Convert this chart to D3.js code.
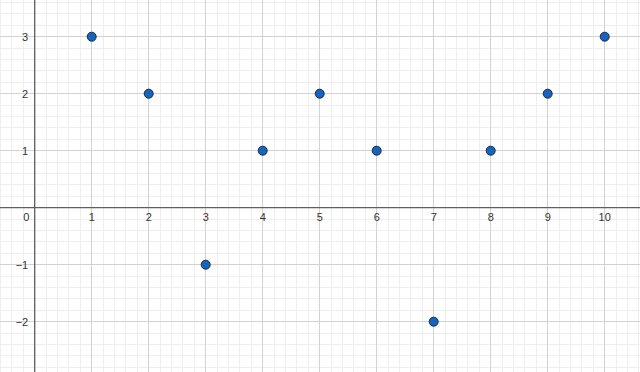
<!DOCTYPE html>
<html><head><meta charset="utf-8">
<script src="https://cdn.jsdelivr.net/npm/d3@7"></script>
<style>html,body{margin:0;padding:0;background:#fff;}svg{display:block;}</style>
</head><body>
<svg id="c" width="640" height="372"></svg>
<script>
const xValues = [1, 2, 3, 4, 5, 6, 7, 8, 9, 10];
const yValues = [3, 2, -1, 1, 2, 1, -2, 1, 2, 3];
const xTickLabels = [0, 1, 2, 3, 4, 5, 6, 7, 8, 9, 10];
const yTickLabels = [-2, -1, 1, 2, 3];

const W = 640, H = 372;
const unit = 57.0, ox = 34.7, oy = 207.7;
const x = d3.scaleLinear().domain([-ox / unit, (W - ox) / unit]).range([0, W]);
const y = d3.scaleLinear().domain([(H - oy) / -unit, oy / unit]).range([H, 0]);
const svg = d3.select("#c");

const [xa, xb] = x.domain(), [ya, yb] = y.domain();
const minorX = d3.range(Math.ceil(xa * 5), Math.floor(xb * 5) + 1).map(k => k / 5);
const minorY = d3.range(Math.ceil(ya * 5), Math.floor(yb * 5) + 1).map(k => k / 5);
const majorX = d3.range(Math.ceil(xa), Math.floor(xb) + 1);
const majorY = d3.range(Math.ceil(ya), Math.floor(yb) + 1);

const g = svg.append("g").attr("shape-rendering", "crispEdges");
g.selectAll(".mx").data(minorX).join("line").attr("x1", d => x(d)).attr("x2", d => x(d)).attr("y1", 0).attr("y2", H).attr("stroke", "#eeeeee").attr("stroke-width", 1);
g.selectAll(".my").data(minorY).join("line").attr("y1", d => y(d)).attr("y2", d => y(d)).attr("x1", 0).attr("x2", W).attr("stroke", "#eeeeee").attr("stroke-width", 1);
g.selectAll(".Mx").data(majorX).join("line").attr("x1", d => x(d)).attr("x2", d => x(d)).attr("y1", 0).attr("y2", H).attr("stroke", "#d2d2d2").attr("stroke-width", 1);
g.selectAll(".My").data(majorY).join("line").attr("y1", d => y(d)).attr("y2", d => y(d)).attr("x1", 0).attr("x2", W).attr("stroke", "#d2d2d2").attr("stroke-width", 1);

// axes
svg.append("line").attr("x1", 0).attr("x2", W).attr("y1", y(0)).attr("y2", y(0)).attr("stroke", "#5f5f5f").attr("stroke-width", 1.3);
svg.append("line").attr("y1", 0).attr("y2", H).attr("x1", x(0)).attr("x2", x(0)).attr("stroke", "#5f5f5f").attr("stroke-width", 1.3);

const font = "'Liberation Sans', Arial, sans-serif";
svg.selectAll(".xl").data(xTickLabels).join("text")
  .attr("x", d => d === 0 ? x(0) - 8.5 : x(d))
  .attr("y", y(0) + 9)
  .attr("text-anchor", "middle").attr("dominant-baseline", "central")
  .attr("font-family", font).attr("font-size", 11).attr("fill", "#333")
  .text(d => d);
svg.selectAll(".yl").data(yTickLabels).join("text")
  .attr("x", x(0) - 6.5)
  .attr("y", d => y(d))
  .attr("text-anchor", "end").attr("dominant-baseline", "central")
  .attr("font-family", font).attr("font-size", 11).attr("fill", "#333")
  .text(d => d < 0 ? "\u2212" + Math.abs(d) : d);

svg.selectAll(".pt").data(xValues.map((v, i) => [v, yValues[i]])).join("circle")
  .attr("cx", d => x(d[0])).attr("cy", d => y(d[1])).attr("r", 4.5)
  .attr("fill", "#1565c0").attr("stroke", "#1a2a40").attr("stroke-width", 1);
</script>
</body></html>
